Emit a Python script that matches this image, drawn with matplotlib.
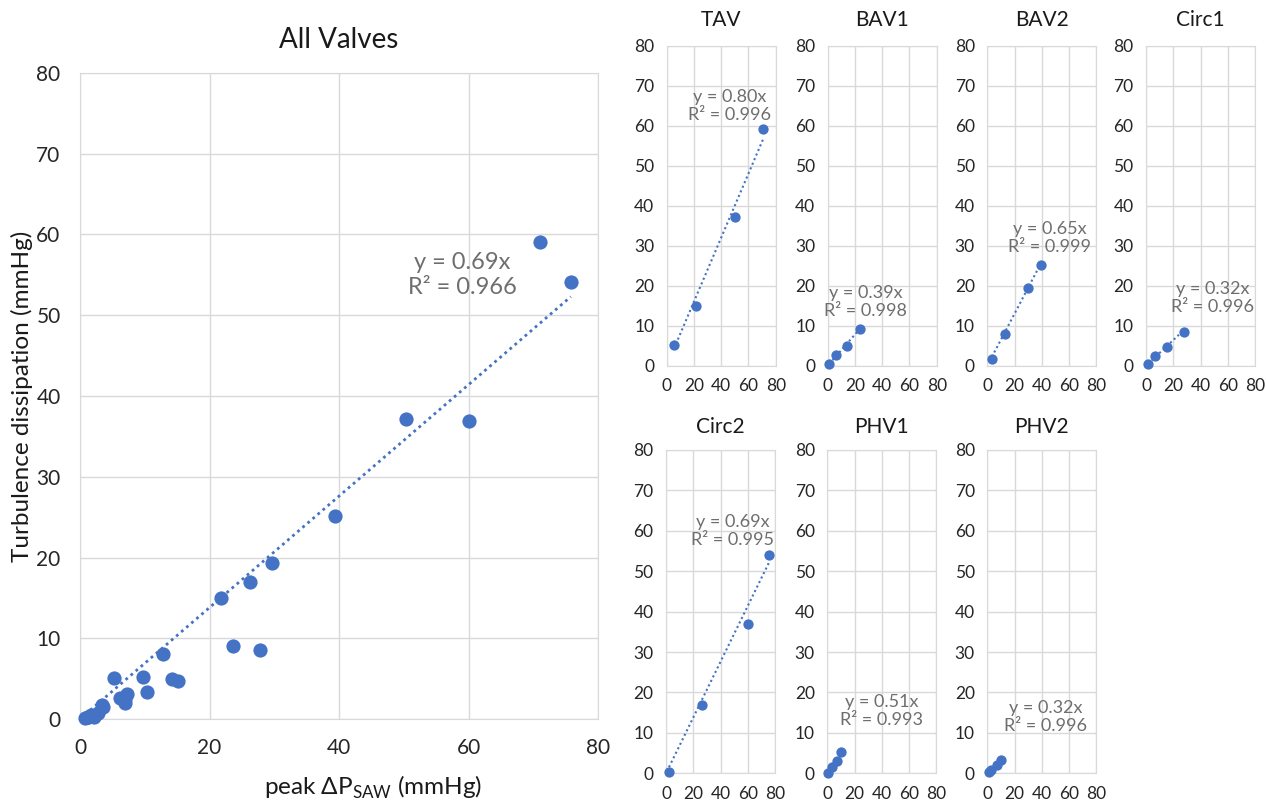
import numpy as np
import matplotlib
matplotlib.use("Agg")
import matplotlib.pyplot as plt

plt.rcParams['font.family'] = ['Lato', 'DejaVu Sans']
plt.rcParams['mathtext.fontset'] = 'custom'
plt.rcParams['mathtext.rm'] = 'Lato'

# peak dP_SAW (x) vs turbulence dissipation (y), mmHg, per valve
valves = ['TAV', 'BAV1', 'BAV2', 'Circ1', 'Circ2', 'PHV1', 'PHV2']
tav_x = [5.3, 21.8, 50.4, 71.0]
tav_y = [5.1, 15.0, 37.1, 59.1]
bav1_x = [1.2, 6.2, 14.2, 23.6]
bav1_y = [0.3, 2.6, 5.0, 9.1]
bav2_x = [3.4, 12.8, 29.6, 39.4]
bav2_y = [1.7, 8.0, 19.3, 25.2]
circ1_x = [1.7, 6.9, 15.2, 27.8]
circ1_y = [0.5, 2.5, 4.7, 8.5]
circ2_x = [2.2, 26.3, 60.1, 75.8]
circ2_y = [0.3, 17.0, 36.9, 54.1]
phv1_x = [0.8, 3.6, 7.2, 9.8]
phv1_y = [0.1, 1.5, 3.1, 5.2]
phv2_x = [1.3, 2.8, 6.9, 10.3]
phv2_y = [0.3, 0.7, 2.0, 3.3]

# trendline (through origin) slopes and R^2 as shown
slopes = [0.80, 0.39, 0.65, 0.32, 0.69, 0.51, 0.32]
r2 = ['0.996', '0.998', '0.999', '0.996', '0.995', '0.993', '0.996']
all_slope = 0.69
all_r2 = '0.966'

xs = [tav_x, bav1_x, bav2_x, circ1_x, circ2_x, phv1_x, phv2_x]
ys = [tav_y, bav1_y, bav2_y, circ1_y, circ2_y, phv1_y, phv2_y]

# label anchor (data coords) for each small panel
label_pos = [(46, 65), (28, 16), (46, 32), (49, 17), (49, 60), (40, 15.5), (43, 14)]

blue = '#4472C4'
grid_c = '#D9D9D9'
txt_c = '#262626'
eq_c = '#6E6E6E'

W, H = 1266, 801
fig = plt.figure(figsize=(W / 100, H / 100), dpi=100)


def style(ax, fs, pad):
    ax.set_xlim(0, 80)
    ax.set_ylim(0, 80)
    ax.set_xticks(range(0, 81, 20))
    ax.set_yticks(range(0, 81, 10))
    ax.grid(True, color=grid_c, linewidth=1)
    ax.set_axisbelow(True)
    for s in ax.spines.values():
        s.set_color(grid_c)
    ax.tick_params(length=0, labelsize=fs, colors=txt_c, pad=pad)


def trend(ax, x, slope, lw):
    xx = np.array([min(x), max(x)])
    ax.plot(xx, slope * xx, color=blue, linestyle=(0, (1, 1.4)), linewidth=lw)


# main panel
ax = fig.add_axes([80 / W, 1 - 719 / H, 518 / W, 646 / H])
style(ax, 15, 14)
allx = np.concatenate(xs)
ally = np.concatenate(ys)
trend(ax, allx, all_slope, 2)
ax.scatter(allx, ally, s=105, color=blue, zorder=3, linewidths=0, clip_on=False)
ax.text(59, 55, 'y = %.2fx\nR² = %s' % (all_slope, all_r2), fontsize=17,
        color=eq_c, ha='center', va='center', linespacing=1.2)
ax.set_title('All Valves', fontsize=20, color='#1a1a1a', pad=18)
ax.set_ylabel('Turbulence dissipation (mmHg)', fontsize=17.5, color='#1a1a1a')
ax.yaxis.set_label_coords(-0.09, 0.5)
ax.set_xlabel(r'peak ΔP$_{\mathregular{SAW}}$ (mmHg)', fontsize=17.5, color='#1a1a1a')
ax.xaxis.set_label_coords(0.566, -0.085)

# small panels
lefts = [666.7, 827.7, 987.3, 1146, 666, 827.3, 987.3]
for i, name in enumerate(valves):
    if i < 4:
        bottom, top, tpad = 365.7, 45.5, 14
    else:
        bottom, top, tpad = 773.3, 450, 12
    a = fig.add_axes([lefts[i] / W, 1 - bottom / H, 109 / W, (bottom - top) / H])
    style(a, 12.5, 9)
    trend(a, xs[i], slopes[i], 1.5)
    a.scatter(xs[i], ys[i], s=55, color=blue, zorder=3, linewidths=0, clip_on=False)
    lx, ly = label_pos[i]
    a.text(lx, ly, 'y = %.2fx\nR² = %s' % (slopes[i], r2[i]), fontsize=13,
           color=eq_c, ha='center', va='center', linespacing=1.15)
    a.set_title(name, fontsize=15, color='#1a1a1a', pad=tpad)

fig.savefig('out.png', dpi=100)
